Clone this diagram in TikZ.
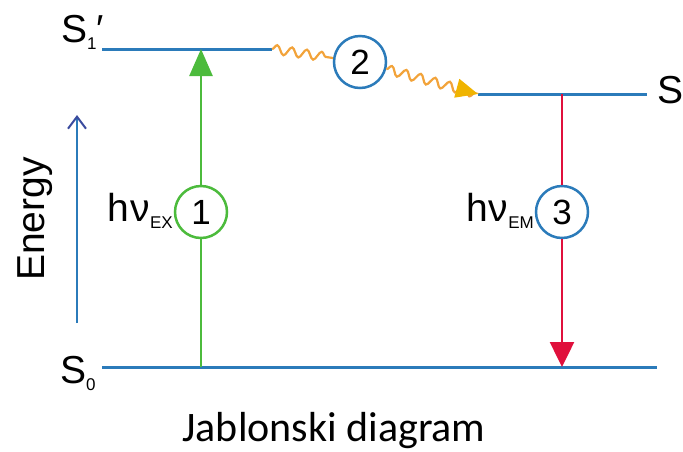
\documentclass[tikz,border=0pt]{standalone}
\usepackage{fontspec}
\setmainfont{Liberation Sans}
\newfontfamily\captionfont{Carlito}
\usetikzlibrary{arrows.meta,decorations.pathmorphing}

\definecolor{levelblue}{HTML}{2B7BBA}
\definecolor{exgreen}{HTML}{4CBB3C}
\definecolor{emred}{HTML}{E0103C}
\definecolor{waveorange}{HTML}{F2A33A}
\definecolor{tipyellow}{HTML}{F0B400}
\definecolor{tipnavy}{HTML}{3A4B9E}

\newcommand{\lowsub}[1]{\raisebox{-7pt}{\fontsize{17}{17}\selectfont #1}}

\begin{document}
\begin{tikzpicture}[x=1pt, y=-1pt,
    level/.style={levelblue, line width=3pt},
    stepcircle/.style={circle, draw=#1, line width=2.5pt, fill=white, text=black,
        minimum size=52pt, inner sep=0pt, font=\fontsize{35}{35}\selectfont},
    statelabel/.style={inner sep=0pt, font=\fontsize{39}{39}\selectfont},
    wave/.style={waveorange, line width=2.2pt, decorate,
        decoration={snake, amplitude=4.5pt, segment length=15pt, post length=3pt}}]
    \useasboundingbox (0,0) rectangle (683,451);

    \coordinate (s1pleft) at (102,49);
    \coordinate (s1pright) at (272,49);
    \coordinate (s1left) at (478,94);
    \coordinate (s1right) at (647,94);
    \coordinate (s0left) at (102,367);
    \coordinate (s0right) at (657,367);
    \coordinate (exbottom) at (201,367);
    \coordinate (extop) at (201,49);
    \coordinate (emtop) at (562,94);
    \coordinate (embottom) at (562,367);
    \coordinate (ebottom) at (77,323);
    \coordinate (etop) at (77,115);

    \node (one) [stepcircle=exgreen] at (201,212) {1};
    \node (two) [stepcircle=levelblue] at (360,62) {2};
    \node (three) [stepcircle=levelblue] at (562,212) {3};

    \draw [level] (s1pleft) -- (s1pright);
    \draw [level] (s1left) -- (s1right);
    \draw [level] (s0left) -- (s0right);

    \draw [exgreen, line width=2.5pt] (exbottom) -- (one);
    \draw [exgreen, line width=2.5pt, -{Triangle[length=27pt, width=23pt]}] (one) -- (extop);
    \draw [emred, line width=2.5pt] (emtop) -- (three);
    \draw [emred, line width=2.5pt, -{Triangle[length=25pt, width=24pt]}] (three) -- (embottom);
    \draw [wave] (s1pright) -- (two);
    \draw [wave, -{Triangle[length=22pt, width=19pt, fill=tipyellow, color=tipyellow]}] (two) -- (s1left);
    \draw [levelblue, line width=2pt, -{Straight Barb[length=12pt, width=18pt, color=tipnavy]}] (ebottom) -- (etop);

    \node (s1plabel) [statelabel, anchor=base west] at (61,42) {S\lowsub{1}′};
    \node (s1label) [statelabel, anchor=base west] at (657,103) {S\lowsub{1}};
    \node (s0label) [statelabel, anchor=base west] at (60,383) {S\lowsub{0}};
    \node (energy) [statelabel, rotate=90] at (35,219) {Energy};
    \node (exlabel) [statelabel, anchor=base east] at (173,221) {h\kern1ptν\lowsub{EX}};
    \node (emlabel) [statelabel, anchor=base east] at (534,221) {h\kern1ptν\lowsub{EM}};
    \node (caption) [inner sep=0pt, anchor=base, font=\captionfont\fontsize{42}{42}\selectfont] at (334,441) {Jablonski diagram};
\end{tikzpicture}
\end{document}
